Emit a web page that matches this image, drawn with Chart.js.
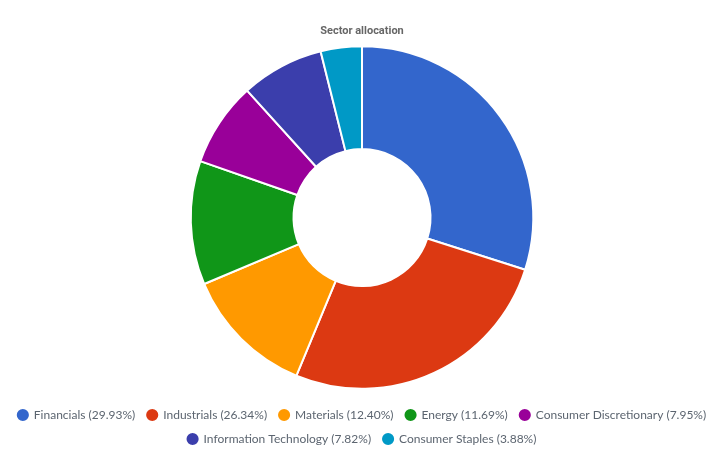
<!DOCTYPE html>
<html>
<head>
<meta charset="utf-8">
<script src="https://cdn.jsdelivr.net/npm/chart.js@4"></script>
<style>
  html, body { margin: 0; padding: 0; background: #fff; }
  #wrap { width: 720px; height: 451px; }
</style>
</head>
<body>
<div id="wrap"><canvas id="pie-chart"></canvas></div>
<script>
var sectors = ["Financials", "Industrials", "Materials", "Energy", "Consumer Discretionary", "Information Technology", "Consumer Staples"];
var weights = [29.93, 26.34, 12.40, 11.69, 7.95, 7.82, 3.88];
var colours = ["#3366cc", "#dc3912", "#ff9900", "#109618", "#990099", "#3b3eac", "#0099c6"];

var labels = sectors.map(function (s, i) { return s + " (" + weights[i].toFixed(2) + "%)"; });

new Chart(document.getElementById("pie-chart"), {
    type: 'doughnut',
    data: {
        labels: labels,
        datasets: [{
            data: weights,
            backgroundColor: colours,
            borderColor: "#ffffff",
            borderWidth: 2
        }]
    },
    options: {
        responsive: true,
        maintainAspectRatio: false,
        animation: false,
        cutout: '40%',
        radius: '96%',
        // legend runs a little past the bottom edge, like the original
        layout: { padding: { top: 4, bottom: -4, left: 4, right: 0 } },
        plugins: {
            title: {
                display: true,
                text: 'Sector allocation',
                color: '#666666',
                font: { family: 'Roboto', size: 11, weight: 'bold' },
                padding: { top: 21, bottom: 0 }
            },
            legend: {
                position: 'bottom',
                labels: {
                    usePointStyle: true,
                    pointStyle: 'circle',
                    boxWidth: 10,
                    boxHeight: 10,
                    padding: 12,
                    color: '#5c6570',
                    font: { family: 'Lato', size: 12 }
                }
            },
            tooltip: { enabled: false }
        }
    }
});
</script>
</body>
</html>
